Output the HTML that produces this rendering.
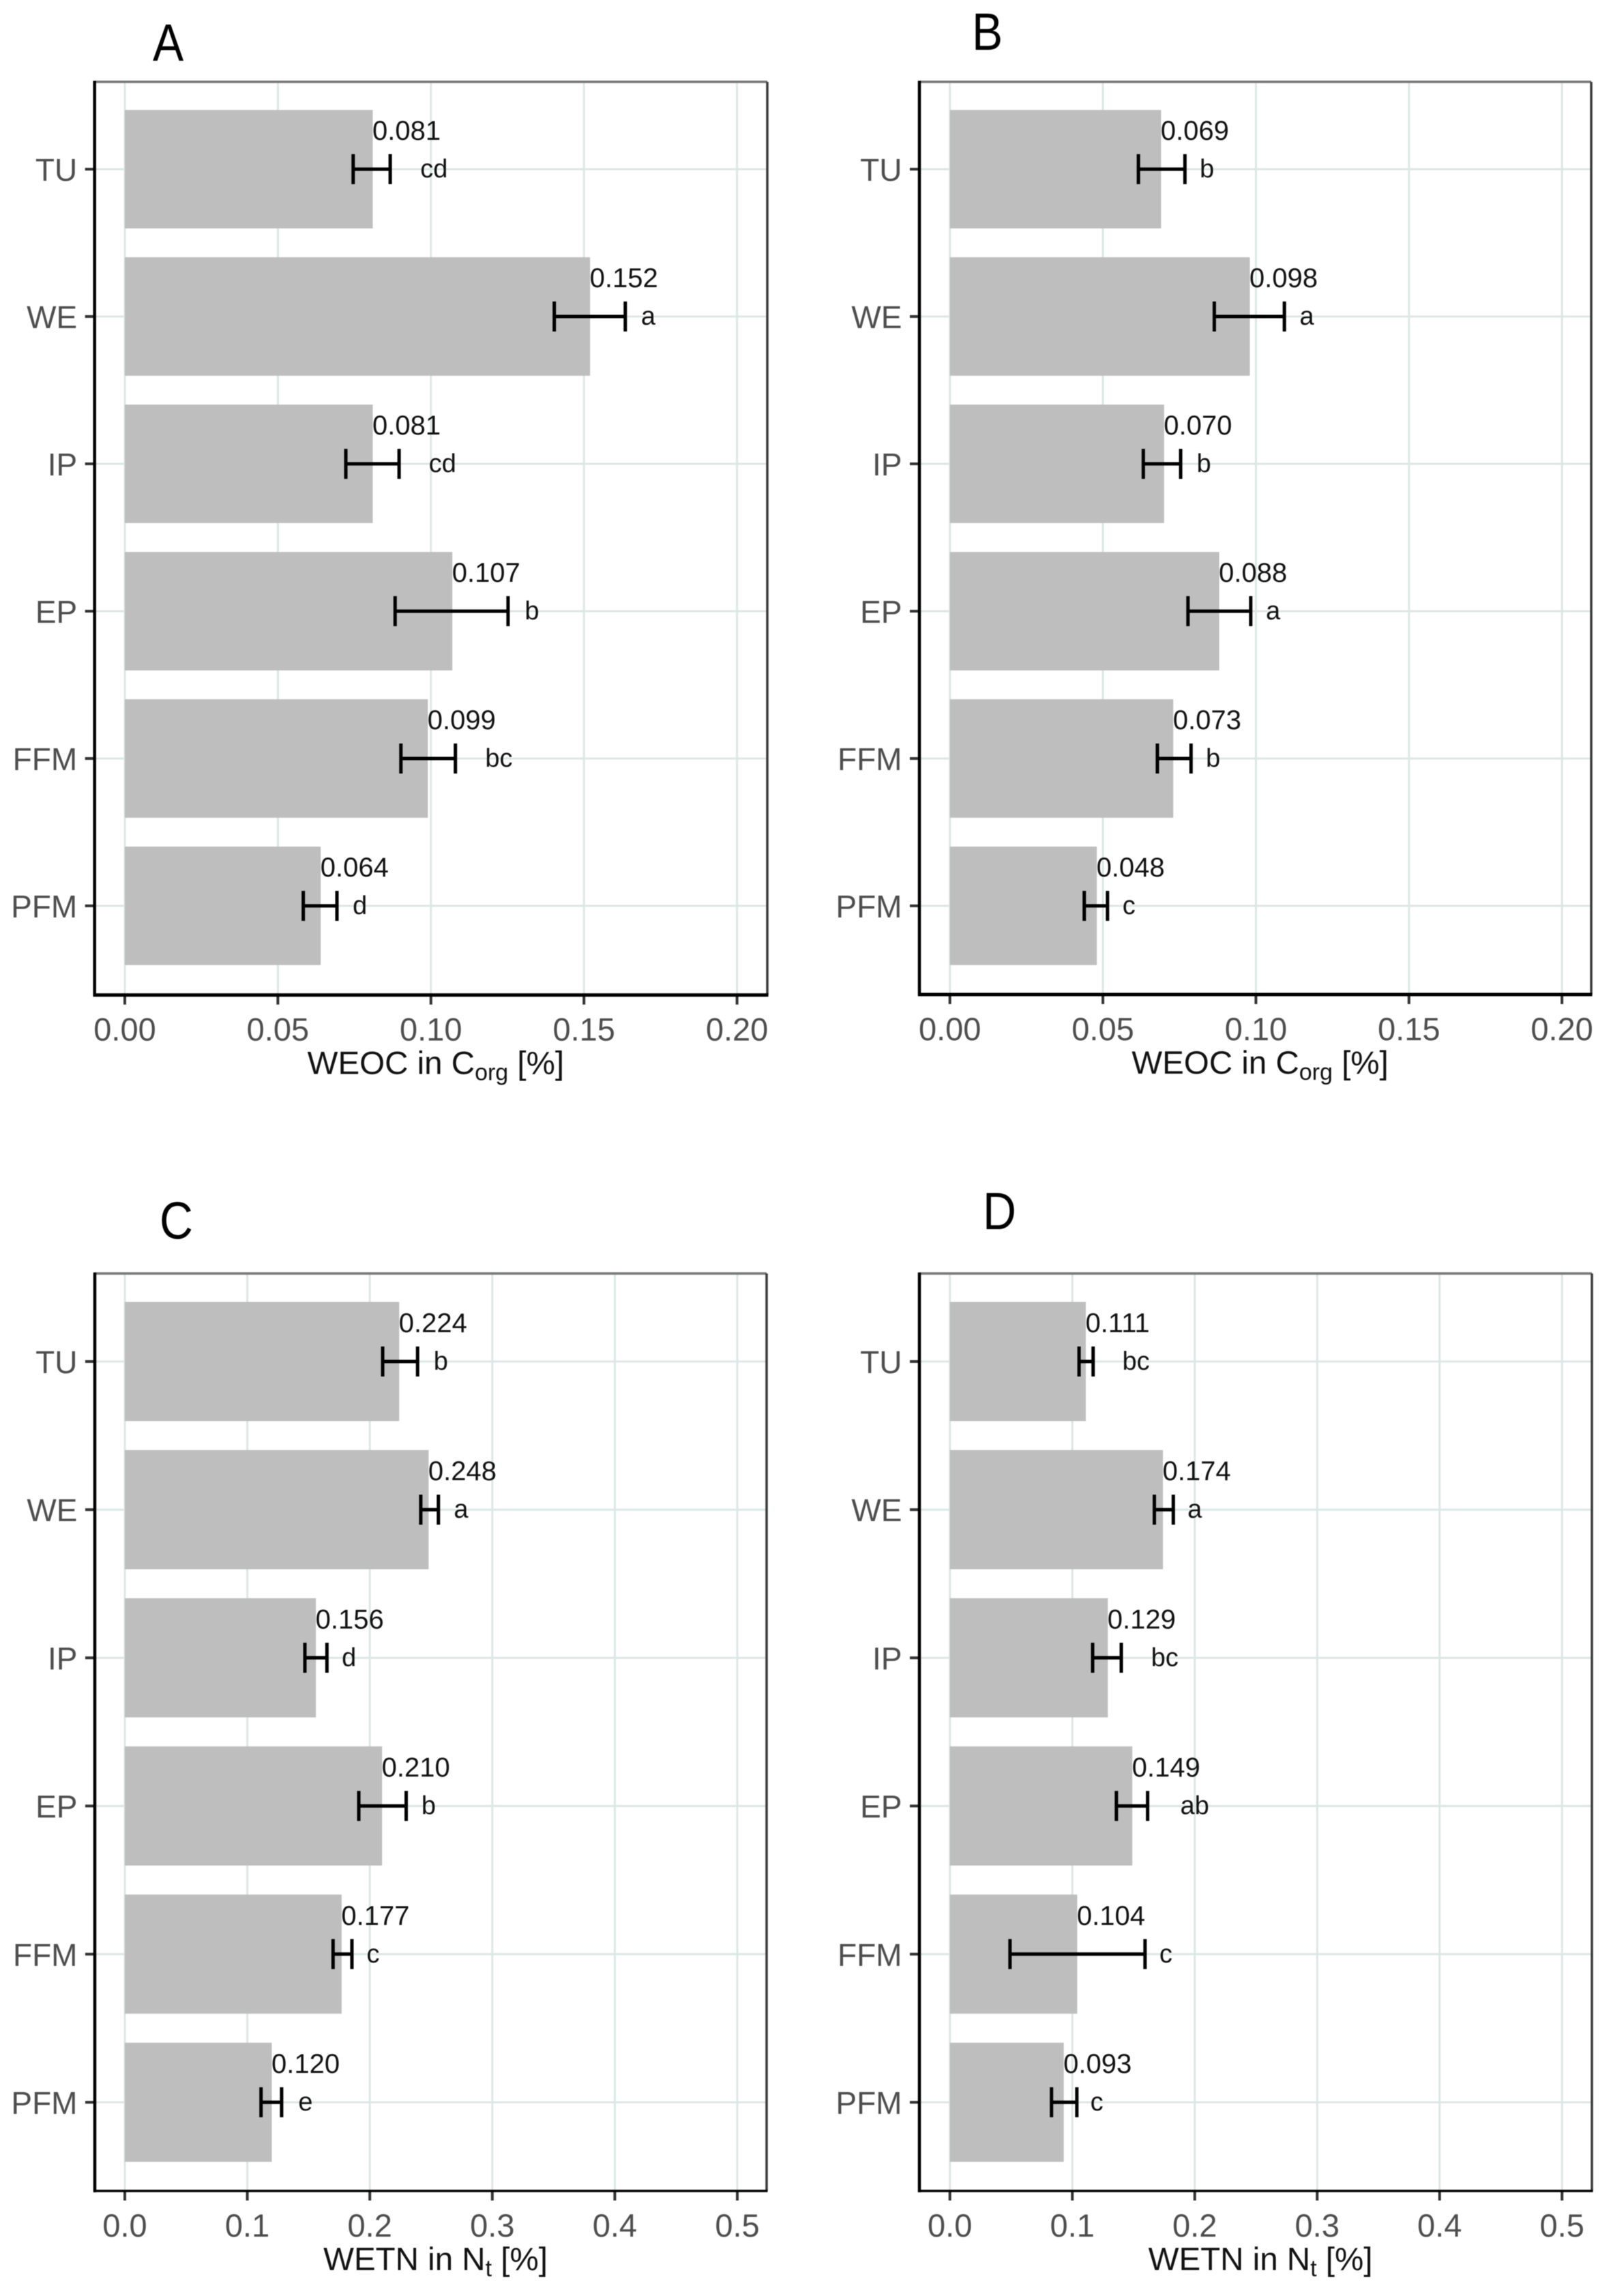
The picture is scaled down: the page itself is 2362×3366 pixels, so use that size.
<!DOCTYPE html>
<html lang="en">
<head>
<meta charset="utf-8">
<title>WEOC and WETN bar charts</title>
<style>
html,body{margin:0;padding:0;background:#fff;}
svg{display:block;font-family:"Liberation Sans",Arial,sans-serif;filter:blur(0.6px);}
</style>
</head>
<body>
<svg id="fig" xmlns="http://www.w3.org/2000/svg" width="2362" height="3366" viewBox="0 0 2362 3366"></svg>
<script>
// ---- data ----
const categories = ['TU','WE','IP','EP','FFM','PFM'];

const weocTicks = [0,0.05,0.10,0.15,0.20];
const weocTickLabels = ['0.00','0.05','0.10','0.15','0.20'];
const wetnTicks = [0,0.1,0.2,0.3,0.4,0.5];
const wetnTickLabels = ['0.0','0.1','0.2','0.3','0.4','0.5'];

const valuesA = [0.081,0.152,0.081,0.107,0.099,0.064];
const lowA    = [0.0746,0.1403,0.0722,0.0883,0.0902,0.0583];
const highA   = [0.0867,0.1635,0.0896,0.1252,0.1080,0.0693];
const lettersA = ['cd','a','cd','b','bc','d'];
const letterAtA = [0.101,0.171,0.1038,0.133,0.1222,0.0768];

const valuesB = [0.069,0.098,0.070,0.088,0.073,0.048];
const lowB    = [0.0616,0.0864,0.0632,0.0778,0.0678,0.0439];
const highB   = [0.0768,0.1093,0.0754,0.0983,0.0788,0.0515];
const lettersB = ['b','a','b','a','b','c'];
const letterAtB = [0.084,0.1166,0.0830,0.1056,0.086,0.0585];

const valuesC = [0.224,0.248,0.156,0.210,0.177,0.120];
const lowC    = [0.2105,0.2416,0.147,0.191,0.170,0.1112];
const highC   = [0.239,0.256,0.165,0.2297,0.1854,0.128];
const lettersC = ['b','a','d','b','c','e'];
const letterAtC = [0.258,0.2745,0.183,0.248,0.2027,0.1475];

const valuesD = [0.111,0.174,0.129,0.149,0.104,0.093];
const lowD    = [0.1055,0.1670,0.1166,0.136,0.0491,0.083];
const highD   = [0.1170,0.1825,0.1400,0.1615,0.1594,0.1037];
const lettersD = ['bc','a','bc','ab','c','c'];
const letterAtD = [0.152,0.2,0.1755,0.2,0.1764,0.12];

// ---- drawing ----
const svgNS = 'http://www.w3.org/2000/svg';
const fig = document.getElementById('fig');

function el(tag, attrs, parent, text){
  const n = document.createElementNS(svgNS, tag);
  for (const k in attrs) n.setAttribute(k, attrs[k]);
  if (text !== undefined) n.textContent = text;
  (parent || fig).appendChild(n);
  return n;
}

function drawPanel(p){
  const g = el('g', {}, fig);
  
  

  const xs = v => p.x0 + v * p.ppu;
  const ys = i => p.y0 + i * p.step;
  const barH = p.step * 0.804;

  const letter = el('text', {transform:`translate(${p.letterX},${p.letterY}) scale(.88,1)`, 'font-size':77, fill:'#000'}, g, p.id);
  
  

  // gridlines
  p.ticks.forEach((t, i) => {
    const gl = el('line', {x1:xs(t), x2:xs(t), y1:p.top, y2:p.bottom, stroke:'#dce7e5', 'stroke-width':3}, g);
    
    
  });
  categories.forEach((c, i) => {
    const gl = el('line', {x1:p.left, x2:p.right, y1:ys(i), y2:ys(i), stroke:'#dce7e5', 'stroke-width':3}, g);
    
    
  });

  categories.forEach((c, i) => {
    const y = ys(i);
    const bar = el('rect', {x:xs(0), y:y - barH/2, width:xs(p.values[i]) - xs(0), height:barH, fill:'#bebebe'}, g);
    
    

    const stem = el('line', {x1:xs(p.low[i]), x2:xs(p.high[i]), y1:y, y2:y, stroke:'#000', 'stroke-width':5}, g);
    
    
    const capL = el('line', {x1:xs(p.low[i]), x2:xs(p.low[i]), y1:y-22, y2:y+22, stroke:'#000', 'stroke-width':5}, g);
    
    
    const capH = el('line', {x1:xs(p.high[i]), x2:xs(p.high[i]), y1:y-22, y2:y+22, stroke:'#000', 'stroke-width':5}, g);
    
    

    const val = el('text', {x:xs(p.values[i]) - 0.5, y:y - 43, 'font-size':40, fill:'#111'}, g, p.values[i].toFixed(3));
    
    

    const sig = el('text', {x:xs(p.letterAt[i]), y:y + 12, 'font-size':38, fill:'#111', 'text-anchor':'middle'}, g, p.letters[i]);
    
    

    const tick = el('line', {x1:p.left - 14, x2:p.left, y1:y, y2:y, stroke:'#333', 'stroke-width':4}, g);
    
    

    const lab = el('text', {x:p.left - 25.5, y:y + 17, 'font-size':46, fill:'#4d4d4d', 'text-anchor':'end'}, g, c);
    
    
  });

  // x axis ticks
  p.ticks.forEach((t, i) => {
    const tick = el('line', {x1:xs(t), x2:xs(t), y1:p.bottom, y2:p.bottom + 14, stroke:'#333', 'stroke-width':4}, g);
    
    
    const lab = el('text', {x:xs(t), y:p.bottom + 67, 'font-size':47, fill:'#4d4d4d', 'text-anchor':'middle'}, g, p.tickLabels[i]);
    
    
  });

  // frame
  const top = el('line', {x1:p.left, x2:p.right, y1:p.top, y2:p.top, stroke:'#777', 'stroke-width':3.5}, g);
  
  
  const right = el('line', {x1:p.right, x2:p.right, y1:p.top, y2:p.bottom, stroke:'#3a3a3a', 'stroke-width':3.5}, g);
  
  
  const left = el('line', {x1:p.left, x2:p.left, y1:p.top - 1.5, y2:p.bottom + 2, stroke:'#000', 'stroke-width':4.5}, g);
  
  
  const bottom = el('line', {x1:p.left - 2, x2:p.right + 1.5, y1:p.bottom, y2:p.bottom, stroke:'#000', 'stroke-width':p.bottomW}, g);
  
  

  // axis title
  const title = el('text', {x:(p.left + p.right)/2 + 7, y:p.bottom + 116, 'font-size':47.5, fill:'#111', 'text-anchor':'middle'}, g);
  
  
  el('tspan', {}, title, p.titleA);
  el('tspan', {dy:9, 'font-size':34}, title, p.titleSub);
  el('tspan', {dy:-9}, title, ' [%]');
}

drawPanel({id:'A', left:138.7, right:1125, top:120, bottom:1458.7, x0:183, ppu:4488, y0:248, step:216, bottomW:5,
  ticks:weocTicks, tickLabels:weocTickLabels, values:valuesA, low:lowA, high:highA, letters:lettersA, letterAt:letterAtA,
  letterX:224, letterY:89, titleA:'WEOC in C', titleSub:'org'});
drawPanel({id:'B', left:1348, right:2333, top:120, bottom:1458, x0:1392.7, ppu:4487, y0:248, step:216, bottomW:5,
  ticks:weocTicks, tickLabels:weocTickLabels, values:valuesB, low:lowB, high:highB, letters:lettersB, letterAt:letterAtB,
  letterX:1425, letterY:73, titleA:'WEOC in C', titleSub:'org'});
drawPanel({id:'C', left:139, right:1124, top:1867, bottom:3212, x0:183, ppu:1796, y0:1996, step:217.2, bottomW:3.5,
  ticks:wetnTicks, tickLabels:wetnTickLabels, values:valuesC, low:lowC, high:highC, letters:lettersC, letterAt:letterAtC,
  letterX:234, letterY:1816, titleA:'WETN in N', titleSub:'t'});
drawPanel({id:'D', left:1348, right:2334, top:1867, bottom:3212, x0:1392.7, ppu:1795, y0:1996, step:217.2, bottomW:3.5,
  ticks:wetnTicks, tickLabels:wetnTickLabels, values:valuesD, low:lowD, high:highD, letters:lettersD, letterAt:letterAtD,
  letterX:1441, letterY:1802, titleA:'WETN in N', titleSub:'t'});
</script>
</body>
</html>
